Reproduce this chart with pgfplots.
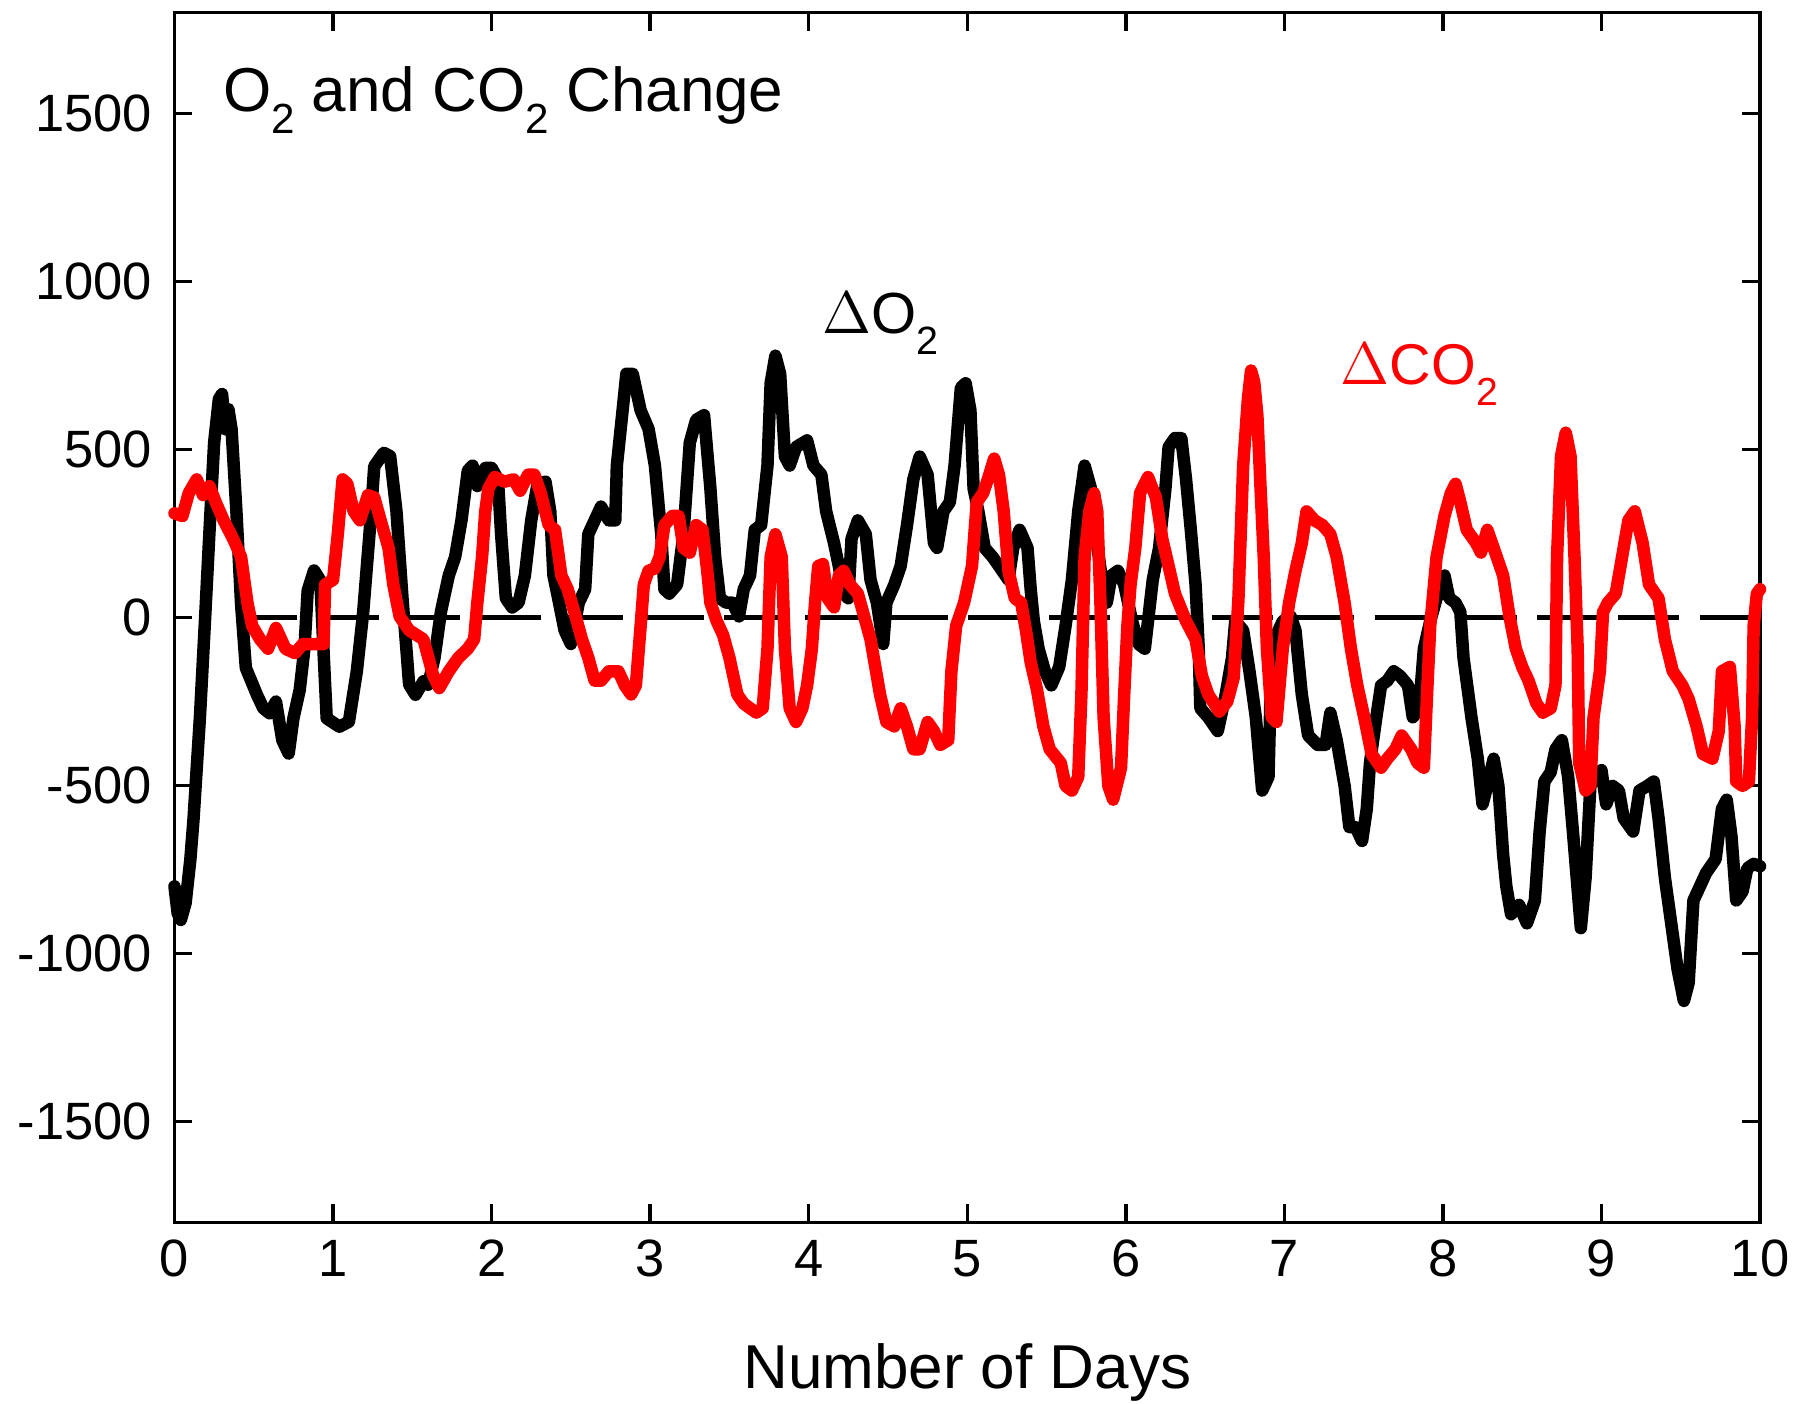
\documentclass[border=0pt]{standalone}
\usepackage{fontspec}
\setmainfont{Liberation Sans}
\usepackage{pgfplots}
\pgfplotsset{compat=1.18}
\newcommand{\sub}[1]{\raisebox{-0.36em}{\scalebox{0.68}{#1}}}
\begin{document}
\begin{tikzpicture}
\useasboundingbox (-34.9pt,-36.3pt) rectangle (323.7pt,244.5pt);
\begin{axis}[
  at={(0,0)}, anchor=south west,
  scale only axis,
  width=317.1pt, height=242pt,
  xmin=0, xmax=10, ymin=-1800, ymax=1800,
  xtick={0,1,2,3,4,5,6,7,8,9,10},
  xticklabels={0,1,2,3,4,5,6,7,8,9,10},
  ytick={-1500,-1000,-500,0,500,1000,1500},
  yticklabels={-1500,-1000,-500,0,500,1000,1500},
  tick align=inside,
  tick pos=both,
  xticklabel pos=lower, yticklabel pos=left,
  major tick length=3.6pt,
  minor tick num=0,
  axis line style={line width=0.7pt},
  every tick/.style={black, line width=0.7pt},
  tick label style={font=\fontsize{10.5}{12}\selectfont},
  yticklabel style={xshift=-1pt},
  clip=false,
]
\addplot[black, line width=1pt, dash pattern=on 12.2pt off 4.06pt] coordinates {(0.39,0) (10,0)};
% Delta O2 (black)
\addplot[black, line width=2.5pt, line join=round, line cap=round] coordinates {
(0.00,-800) (0.02,-880) (0.04,-900) (0.07,-850) (0.10,-720) (0.12,-600) (0.16,-300) (0.19,-30) (0.22,250) (0.25,520) (0.28,650) (0.30,665) (0.32,560) (0.34,620) (0.36,560) (0.39,320) (0.42,40) (0.45,-150) (0.52,-230) (0.56,-270) (0.60,-285) (0.64,-250) (0.68,-365) (0.72,-405) (0.75,-300) (0.79,-215) (0.82,-90) (0.84,80) (0.88,140) (0.92,110) (0.94,-100) (0.96,-300) (1.04,-325) (1.10,-310) (1.15,-160) (1.19,15) (1.23,250) (1.26,450) (1.32,490) (1.36,480) (1.40,316) (1.44,44) (1.48,-200) (1.52,-230) (1.57,-190) (1.60,-200)
(1.64,-120) (1.68,16) (1.73,125) (1.77,180) (1.81,289) (1.85,437) (1.88,452) (1.91,391) (1.96,445) (2.00,445) (2.04,411) (2.06,248) (2.09,57) (2.13,30) (2.17,44) (2.21,125) (2.25,289) (2.29,398) (2.34,404) (2.37,316) (2.39,125) (2.42,57) (2.46,-38) (2.50,-79) (2.55,44) (2.59,84) (2.61,248) (2.65,289) (2.69,330) (2.74,289) (2.78,289) (2.79,452) (2.82,588) (2.85,725) (2.89,725) (2.94,616) (2.99,561) (3.03,452) (3.07,248) (3.09,84) (3.12,71) (3.17,98) (3.21,248) (3.25,520) (3.29,588) (3.34,602)
(3.38,384) (3.41,180) (3.44,57) (3.48,44) (3.52,44) (3.56,3) (3.59,84) (3.63,125) (3.66,261) (3.70,275) (3.74,452) (3.76,697) (3.79,779) (3.82,725) (3.85,479) (3.88,452) (3.92,507) (3.99,527) (4.03,452) (4.08,425) (4.11,316) (4.16,221) (4.19,153) (4.22,71) (4.25,57) (4.27,234) (4.31,289) (4.36,248) (4.39,112) (4.43,44) (4.47,-79) (4.49,44) (4.54,98) (4.58,153) (4.62,275) (4.66,411) (4.70,479) (4.75,425) (4.79,221) (4.81,207) (4.85,316) (4.89,343) (4.92,452) (4.96,684) (4.99,697)
(5.02,616) (5.04,384) (5.07,316) (5.11,207) (5.16,180) (5.20,153) (5.26,112) (5.29,207) (5.33,261) (5.38,207) (5.40,84) (5.42,-11) (5.45,-93) (5.49,-160) (5.53,-202) (5.58,-147) (5.62,-25) (5.66,112) (5.70,316) (5.74,452) (5.78,384) (5.81,248) (5.85,112) (5.88,44) (5.91,125) (5.95,139) (5.99,98) (6.04,-11) (6.08,-79) (6.12,-93) (6.17,112) (6.21,207) (6.25,384) (6.27,507) (6.31,534) (6.35,534) (6.38,411) (6.41,261) (6.44,98) (6.46,-93) (6.47,-270) (6.52,-297) (6.58,-338) (6.63,-229) (6.67,-120) (6.69,-11)
(6.74,-38) (6.78,-160) (6.82,-297) (6.86,-515) (6.90,-474) (6.92,-93) (6.95,-52) (6.99,-11) (7.04,3) (7.07,-38) (7.11,-229) (7.15,-351) (7.21,-379) (7.26,-379) (7.29,-283) (7.33,-365) (7.38,-501) (7.41,-624) (7.45,-624) (7.49,-665) (7.52,-569) (7.54,-433) (7.58,-297) (7.61,-202) (7.65,-188) (7.69,-160) (7.73,-174) (7.78,-202) (7.81,-297) (7.85,-270) (7.88,-93) (7.92,-11) (7.96,57) (8.01,125) (8.04,57) (8.08,44) (8.11,16) (8.13,-120) (8.18,-297) (8.22,-420) (8.25,-556) (8.28,-501) (8.32,-420) (8.35,-501) (8.38,-706)
(8.40,-800) (8.43,-883) (8.48,-855) (8.53,-910) (8.58,-842) (8.61,-637) (8.64,-488) (8.68,-460) (8.71,-392) (8.75,-365) (8.79,-474) (8.82,-637) (8.87,-924) (8.90,-774) (8.93,-501) (8.96,-474) (9.00,-454) (9.03,-556) (9.07,-501) (9.11,-515) (9.14,-597) (9.20,-637) (9.24,-515) (9.29,-501) (9.33,-488) (9.36,-597) (9.40,-774) (9.44,-910) (9.48,-1046) (9.52,-1141) (9.55,-1087) (9.58,-842) (9.62,-801) (9.66,-760) (9.72,-719) (9.76,-569) (9.79,-542) (9.82,-651) (9.85,-842) (9.89,-815) (9.92,-746) (9.96,-733) (10.0,-740)
};
% Delta CO2 (red)
\addplot[red, line width=2.5pt, line join=round, line cap=round] coordinates {
(0.00,310) (0.05,302) (0.09,370) (0.14,411) (0.18,364) (0.22,391) (0.26,343) (0.31,289) (0.37,234) (0.42,180) (0.46,44) (0.49,-25) (0.54,-65) (0.59,-93) (0.64,-31) (0.70,-93) (0.76,-106) (0.81,-79) (0.87,-79) (0.94,-79) (0.95,98) (1.00,112) (1.03,248) (1.06,411) (1.09,398) (1.13,316) (1.17,289) (1.22,364) (1.26,357) (1.30,289) (1.35,207) (1.38,98) (1.42,3) (1.48,-38) (1.57,-65) (1.63,-170) (1.67,-210)
(1.73,-160) (1.79,-120) (1.85,-93) (1.89,-65) (1.91,44) (1.94,180) (1.96,316) (1.98,384) (2.02,418) (2.08,404) (2.14,411) (2.18,377) (2.23,425) (2.27,425) (2.31,370) (2.36,275) (2.40,261) (2.44,125) (2.48,84) (2.53,3) (2.57,-65) (2.61,-120) (2.65,-188) (2.69,-188) (2.74,-160) (2.80,-160) (2.84,-202) (2.88,-229) (2.91,-202) (2.94,-25) (2.96,98) (2.99,139) (3.03,146) (3.06,180) (3.09,275) (3.14,302) (3.18,302) (3.21,207) (3.25,193) (3.29,275) (3.33,261) (3.36,139)
(3.38,44) (3.42,-11) (3.46,-52) (3.50,-120) (3.55,-229) (3.59,-256) (3.63,-270) (3.67,-283) (3.71,-270) (3.74,-93) (3.76,180) (3.79,248) (3.83,180) (3.85,-93) (3.88,-270) (3.92,-311) (3.96,-270) (3.99,-202) (4.02,-93) (4.04,44) (4.06,153) (4.09,159) (4.12,57) (4.16,30) (4.19,125) (4.22,139) (4.26,98) (4.31,71) (4.35,3) (4.39,-65) (4.42,-147) (4.45,-229) (4.49,-311) (4.54,-324) (4.58,-270) (4.62,-324) (4.66,-392) (4.70,-392) (4.75,-311) (4.79,-338) (4.83,-379) (4.88,-365) (4.90,-160) (4.93,-25) (4.98,44)
(5.03,153) (5.06,343) (5.10,370) (5.13,411) (5.17,473) (5.20,425) (5.23,316) (5.26,139) (5.30,57) (5.34,44) (5.37,-38) (5.40,-133) (5.44,-215) (5.48,-324) (5.52,-392) (5.59,-433) (5.62,-501) (5.66,-515) (5.70,-474) (5.72,-229) (5.74,180) (5.77,316) (5.80,370) (5.82,316) (5.84,44) (5.86,-297) (5.89,-501) (5.92,-542) (5.97,-447) (5.99,-229) (6.01,-25) (6.03,98) (6.06,207) (6.09,370) (6.14,418) (6.19,357) (6.23,234) (6.27,153) (6.31,71) (6.38,-11) (6.44,-65) (6.48,-174) (6.52,-229) (6.59,-280) (6.64,-250) (6.68,-180)
(6.71,50) (6.74,450) (6.77,650) (6.79,735) (6.81,700) (6.83,600) (6.85,384) (6.87,180) (6.89,-93) (6.92,-297) (6.95,-311) (6.99,-93) (7.03,44) (7.07,139) (7.11,221) (7.14,316) (7.19,289) (7.24,275) (7.29,248) (7.33,180) (7.38,44) (7.42,-93) (7.46,-202) (7.51,-311) (7.55,-406) (7.61,-447) (7.65,-420) (7.70,-392) (7.74,-351) (7.80,-392) (7.84,-433) (7.88,-447) (7.90,-229) (7.92,-25) (7.96,180) (8.01,302) (8.05,370) (8.08,398) (8.11,343) (8.15,261) (8.21,221) (8.24,193) (8.28,261) (8.32,207)
(8.38,125) (8.42,3) (8.46,-93) (8.50,-147) (8.54,-188) (8.59,-256) (8.63,-283) (8.68,-270) (8.71,-202) (8.72,180) (8.745,480) (8.775,550) (8.805,480) (8.83,180) (8.85,-93) (8.86,-433) (8.90,-515) (8.93,-501) (8.95,-297) (8.99,-160) (9.01,16) (9.04,44) (9.09,71) (9.13,180) (9.17,289) (9.21,316) (9.26,221) (9.30,98) (9.36,57) (9.40,-65) (9.45,-160) (9.51,-202) (9.55,-243) (9.60,-324) (9.64,-406) (9.70,-420) (9.74,-338) (9.76,-160) (9.81,-147) (9.84,-324) (9.85,-488) (9.89,-501) (9.93,-488) (9.95,-297) (9.96,-25) (9.98,71) (10.0,84)
};
\node[anchor=base west, inner sep=0pt, font=\fontsize{12.4}{14}\selectfont] at (axis cs:0.30,1505) {O\sub{2} and CO\sub{2} Change};
\node[anchor=base west, inner sep=0pt, font=\fontsize{11.6}{14}\selectfont] at (axis cs:4.08,844) {$\Delta$O\sub{2}};
\node[anchor=base west, inner sep=0pt, red, font=\fontsize{11.5}{14}\selectfont] at (axis cs:7.35,692) {$\Delta$CO\sub{2}};
\node[anchor=base, font=\fontsize{12.4}{14}\selectfont, yshift=-33.2pt] at (axis cs:5,-1800) {Number of Days};
\end{axis}
\end{tikzpicture}
\end{document}
